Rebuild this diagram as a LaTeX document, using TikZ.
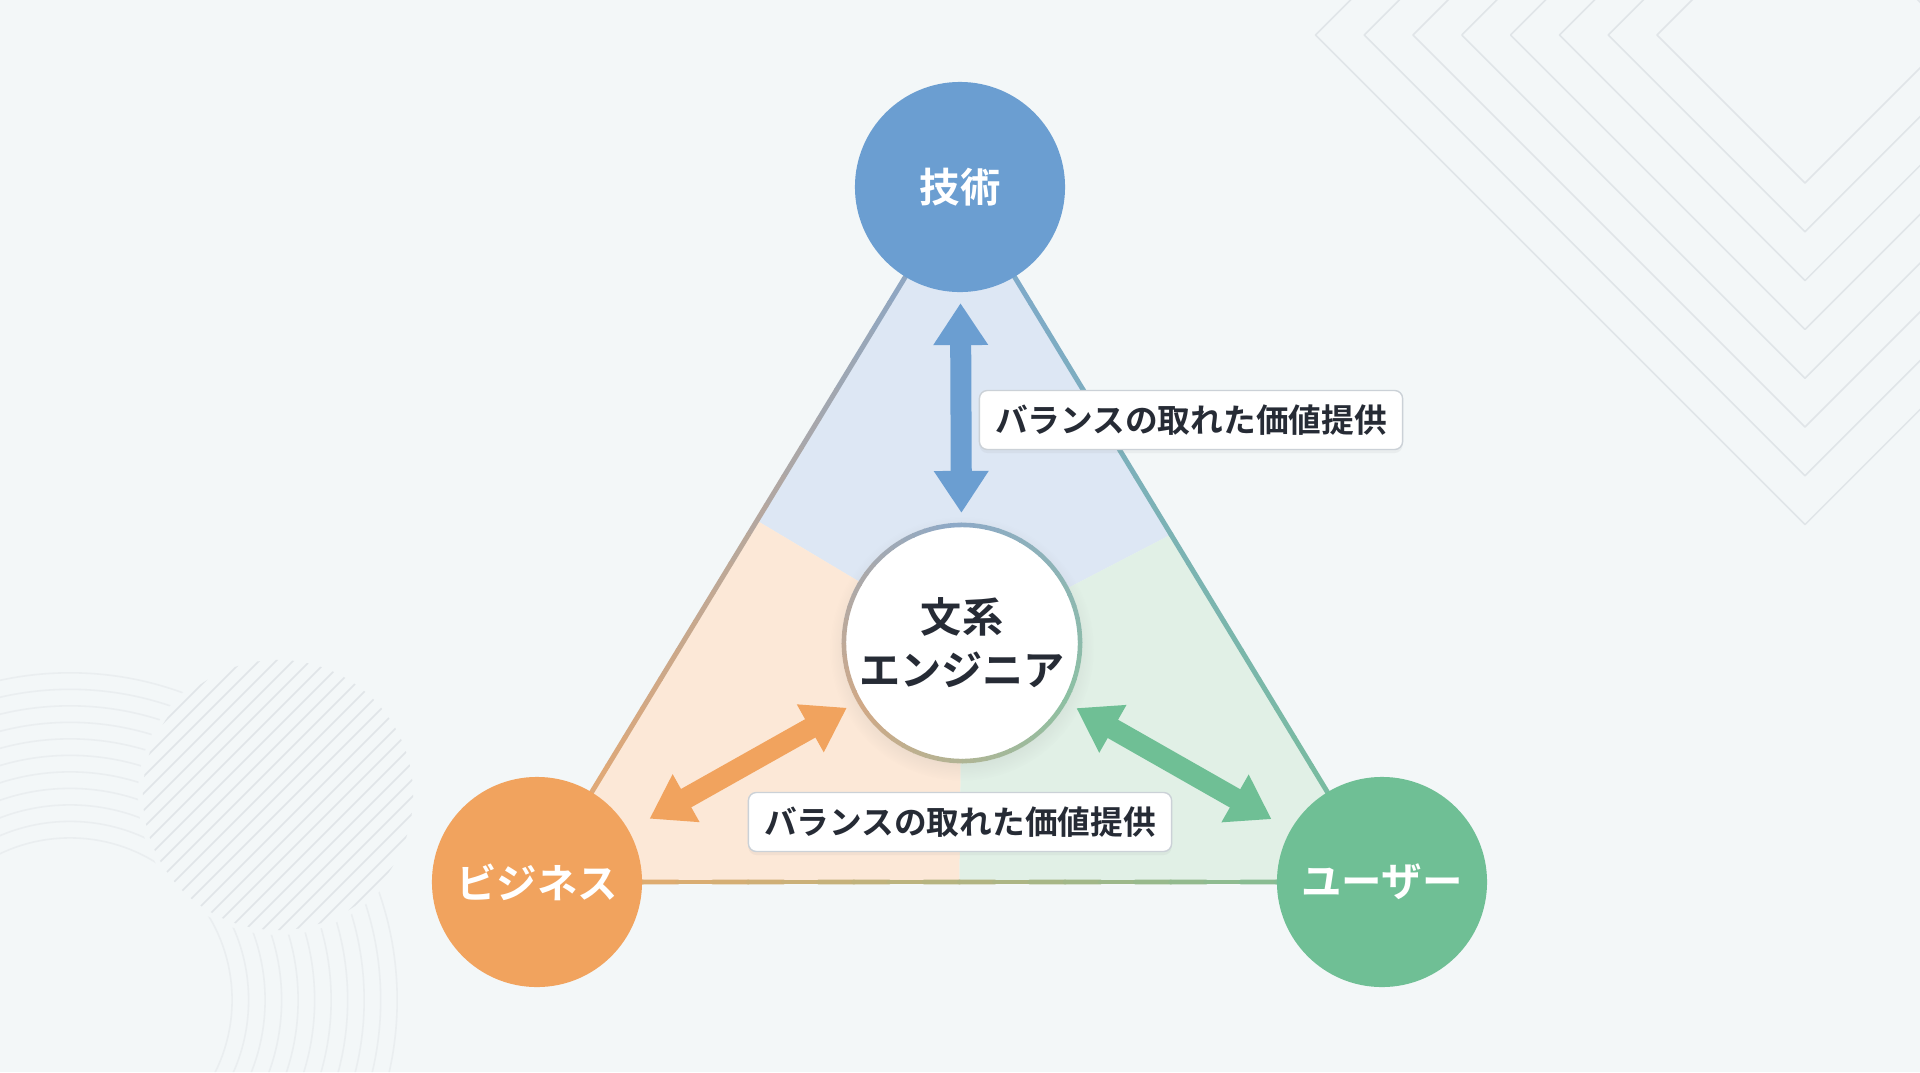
\documentclass[tikz,border=0pt]{standalone}
\usepackage{fontspec}
\setmainfont{Noto Sans CJK JP}[BoldFont={* Bold}]
\usetikzlibrary{arrows.meta,calc,shadows}

\definecolor{bgpaper}{HTML}{F3F7F8}
\definecolor{decogray}{HTML}{E0E5E8}
\definecolor{arcgray}{HTML}{EAEEF0}
\definecolor{techblue}{HTML}{6B9ED1}
\definecolor{bizorange}{HTML}{F1A35E}
\definecolor{usergreen}{HTML}{6FBF95}
\definecolor{techtint}{HTML}{DDE7F4}
\definecolor{biztint}{HTML}{FCE8D7}
\definecolor{usertint}{HTML}{E1F0E6}
\definecolor{edgeblue}{HTML}{7FA6D0}
\definecolor{edgeorange}{HTML}{EFA969}
\definecolor{edgegreen}{HTML}{78BF99}
\definecolor{ringblue}{HTML}{8DA9C7}
\definecolor{ringorange}{HTML}{D0A987}
\definecolor{ringgreen}{HTML}{8DC0A3}
\definecolor{inkdark}{HTML}{262B35}
\definecolor{lblborder}{HTML}{CBD1D7}

\tikzset{
  pole/.style={circle, minimum size=2.1cm, inner sep=0pt, outer sep=0pt,
    text=white, font=\bfseries\fontsize{11.5}{13}\selectfont},
  core/.style={circle, fill=white, minimum size=2.4cm, inner sep=0pt, outer sep=0pt,
    align=center, text=inkdark, font=\bfseries\fontsize{11.7}{15}\selectfont,
    circular drop shadow={shadow xshift=0pt, shadow yshift=-1.5pt, opacity=.12}},
  balance/.style={draw=lblborder, fill=white, rounded corners=0.08cm, line width=0.4pt,
    minimum width=4.23cm, minimum height=0.59cm, inner sep=0pt, text=inkdark,
    font=\bfseries\fontsize{9.3}{11}\selectfont,
    drop shadow={shadow xshift=0pt, shadow yshift=-1pt, opacity=.08}},
  twoway/.style={line width=0.21cm,
    {Triangle[length=0.42cm,width=0.52cm]}-{Triangle[length=0.42cm,width=0.52cm]}},
  deco/.style={draw=decogray, line width=0.45pt},
  arcline/.style={draw=arcgray, line width=0.45pt},
  ring/.style={line width=1.3pt},
  edge/.style={line width=1.4pt, line cap=round},
}

\begin{document}
\begin{tikzpicture}[x=0.01cm, y=-0.01cm, line join=round]
  \def\W{1920} \def\H{1072}
  \useasboundingbox (0,0) rectangle (\W,\H);
  \fill[bgpaper] (0,0) rectangle (\W,\H);

  % background: nested squares, top right
  \begin{scope}
    \clip (0,0) rectangle (\W,\H);
    \foreach \k in {0,...,7}{
      \pgfmathsetmacro\dd{148+48.8*\k}
      \draw[deco] (1805-\dd,35) -- (1805,35+\dd) -- (1805+\dd,35) -- (1805,35-\dd) -- cycle;
    }
  \end{scope}

  % background: rings and hatched disc, bottom left
  \begin{scope}[even odd rule]
    \clip (0,0) rectangle (\W,\H) (278,795) circle[radius=1.4cm];
    \foreach \k in {0,...,10}{
      \pgfmathsetmacro\rr{1.62+0.165*\k}
      \draw[arcline] (70,1000) circle[radius=\rr cm];
    }
  \end{scope}
  \begin{scope}
    \clip (278,795) circle[radius=1.35cm];
    \foreach \k in {-16,...,16}
      \draw[deco] (278+8.5*\k-200,795+8.5*\k+200) -- (278+8.5*\k+200,795+8.5*\k-200);
  \end{scope}

  \coordinate (T) at (960,187);
  \coordinate (L) at (537,882);
  \coordinate (R) at (1382,882);
  \coordinate (C) at (962,643);

  % three sectors
  \fill[techtint] (C) -- ($(T)!.48!(L)$) -- (T) -- ($(T)!.5!(R)$) -- cycle;
  \fill[biztint] (C) -- ($(T)!.48!(L)$) -- (L) -- ($(L)!.5!(R)$) -- cycle;
  \fill[usertint] (C) -- ($(T)!.5!(R)$) -- (R) -- ($(L)!.5!(R)$) -- cycle;

  % triangle sides, colour blended from corner to corner
  \foreach \i in {0,...,23}{
    \pgfmathsetmacro\ta{\i/24}
    \pgfmathsetmacro\tb{(\i+1)/24}
    \pgfmathsetmacro\pc{100-(\i+0.5)*100/24}
    \draw[edge, draw=edgeblue!\pc!edgeorange] ($(T)!\ta!(L)$) -- ($(T)!\tb!(L)$);
    \draw[edge, draw=edgeblue!\pc!edgegreen] ($(T)!\ta!(R)$) -- ($(T)!\tb!(R)$);
    \draw[edge, draw=edgeorange!\pc!edgegreen] ($(L)!\ta!(R)$) -- ($(L)!\tb!(R)$);
  }

  \node[pole, fill=techblue] (tech) at (T) {技術};
  \node[pole, fill=bizorange] (biz) at (L) {ビジネス};
  \node[pole, fill=usergreen] (user) at (R) {ユーザー};
  \node[core] (bunkei) at (C) {文系\\エンジニア};

  % ring round the centre
  \foreach \a in {90,96,...,204}{
    \pgfmathsetmacro\pc{100-(\a-90)/1.2}
    \draw[ring, draw=ringblue!\pc!ringorange] (bunkei.center) ++(\a:1.18cm) arc[start angle=\a, end angle=\a+6.5, radius=1.18cm];
  }
  \foreach \a in {210,216,...,324}{
    \pgfmathsetmacro\pc{100-(\a-210)/1.2}
    \draw[ring, draw=ringorange!\pc!ringgreen] (bunkei.center) ++(\a:1.18cm) arc[start angle=\a, end angle=\a+6.5, radius=1.18cm];
  }
  \foreach \a in {330,336,...,444}{
    \pgfmathsetmacro\pc{100-(\a-330)/1.2}
    \draw[ring, draw=ringgreen!\pc!ringblue] (bunkei.center) ++(\a:1.18cm) arc[start angle=\a, end angle=\a+6.5, radius=1.18cm];
  }

  \draw[twoway, draw=techblue, shorten <=0.11cm, shorten >=0.1cm] (tech) -- (bunkei);
  \draw[twoway, draw=bizorange, shorten <=0.12cm, shorten >=0.24cm] (bunkei) -- (biz);
  \draw[twoway, draw=usergreen, shorten <=0.115cm, shorten >=0.22cm] (bunkei) -- (user);

  \node[balance] (lbltop) at (1191,420) {バランスの取れた価値提供};
  \node[balance] (lblbottom) at (960,822) {バランスの取れた価値提供};
\end{tikzpicture}
\end{document}
